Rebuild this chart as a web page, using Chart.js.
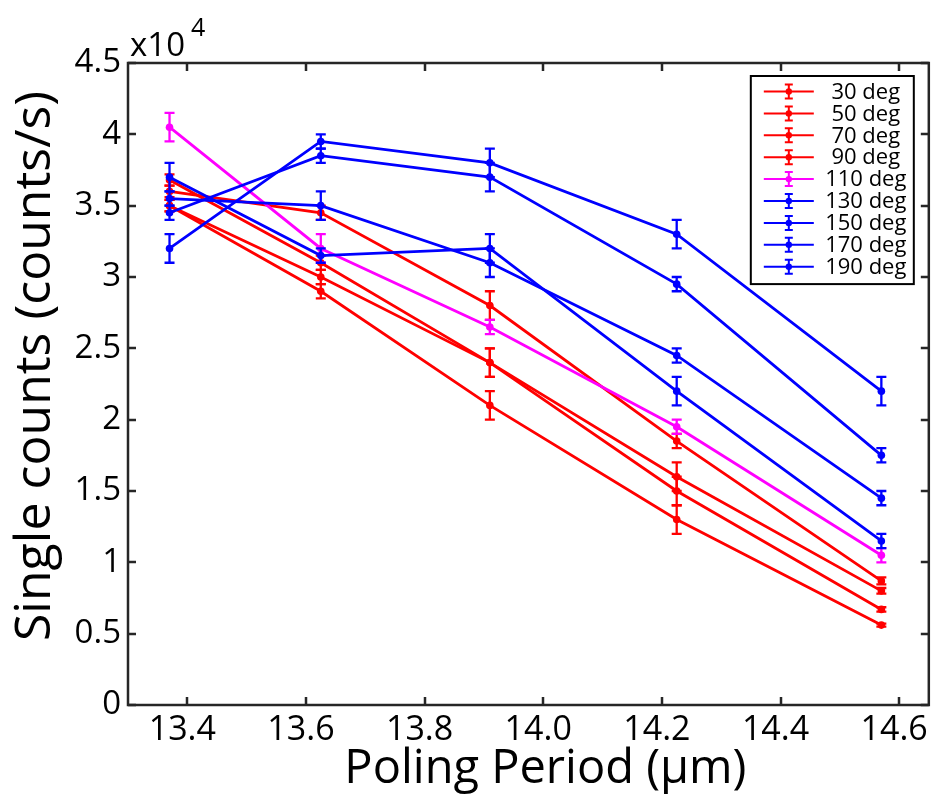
<!DOCTYPE html>
<html>
<head>
<meta charset="utf-8">
<script src="https://cdn.jsdelivr.net/npm/chart.js@4"></script>
<style>
    html, body { margin: 0; padding: 0; background: #fff; }
    #wrap { width: 938px; height: 802px; position: relative; }
</style>
</head>
<body>
<div id="wrap"><canvas id="countsChart"></canvas></div>
<script>
// Poling periods (um) and axis ticks
const periods = [13.37, 13.625, 13.91, 14.225, 14.57];
const xTicks = [13.4, 13.6, 13.8, 14.0, 14.2, 14.4, 14.6];
const yTicks = [0, 5000, 10000, 15000, 20000, 25000, 30000, 35000, 40000, 45000];

// Single counts (counts/s) per pump angle, with error bar half-heights
const deg30 = [35000, 29000, 21000, 13000, 5600];
const err30 = [400, 500, 1000, 1000, 100];
const deg50 = [35000, 30000, 24000, 15000, 6700];
const err50 = [400, 500, 1000, 1000, 150];
const deg70 = [36800, 31000, 24000, 16000, 8000];
const err70 = [400, 500, 1000, 1000, 200];
const deg90 = [36000, 34500, 28000, 18500, 8700];
const err90 = [400, 500, 1000, 500, 250];
const deg110 = [40500, 32000, 26500, 19500, 10500];
const err110 = [1000, 1000, 500, 500, 500];
const deg130 = [37000, 31500, 32000, 22000, 11500];
const err130 = [1000, 500, 1000, 1000, 500];
const deg150 = [35500, 35000, 31000, 24500, 14500];
const err150 = [500, 1000, 1000, 500, 500];
const deg170 = [34500, 38500, 37000, 29500, 17500];
const err170 = [500, 500, 1000, 500, 500];
const deg190 = [32000, 39500, 38000, 33000, 22000];
const err190 = [1000, 500, 1000, 1000, 1000];

const RED = '#ff0000';
const MAGENTA = '#ff00ff';
const BLUE = '#0000ff';
const AXIS = '#262626';
const FONT = '"Open Sans", "Noto Sans", sans-serif';

const series = [
    { label: '30 deg', values: deg30, errors: err30, color: RED },
    { label: '50 deg', values: deg50, errors: err50, color: RED },
    { label: '70 deg', values: deg70, errors: err70, color: RED },
    { label: '90 deg', values: deg90, errors: err90, color: RED },
    { label: '110 deg', values: deg110, errors: err110, color: MAGENTA },
    { label: '130 deg', values: deg130, errors: err130, color: BLUE },
    { label: '150 deg', values: deg150, errors: err150, color: BLUE },
    { label: '170 deg', values: deg170, errors: err170, color: BLUE },
    { label: '190 deg', values: deg190, errors: err190, color: BLUE }
];

// vertical error bars with caps, drawn right after each dataset's line
const errorBarPlugin = {
    id: 'errorBars',
    afterDatasetDraw(chart, args) {
        const ds = chart.data.datasets[args.index];
        if (!ds.errors) return;
        const xs = chart.scales.x, ys = chart.scales.y;
        const ctx = chart.ctx;
        const cap = 5;
        ctx.save();
        ctx.strokeStyle = ds.borderColor;
        ctx.lineWidth = 2.3;
        ds.data.forEach((p, i) => {
            const e = ds.errors[i];
            const px = xs.getPixelForValue(p.x);
            const top = ys.getPixelForValue(p.y + e);
            const bot = ys.getPixelForValue(p.y - e);
            ctx.beginPath();
            ctx.moveTo(px, top); ctx.lineTo(px, bot);
            ctx.moveTo(px - cap, top); ctx.lineTo(px + cap, top);
            ctx.moveTo(px - cap, bot); ctx.lineTo(px + cap, bot);
            ctx.stroke();
        });
        ctx.restore();
    }
};

// boxed axes with inward ticks on all four sides, titles and exponent
const framePlugin = {
    id: 'frame',
    afterDraw(chart) {
        const { ctx, chartArea: a } = chart;
        const xs = chart.scales.x, ys = chart.scales.y;
        const tl = 8;
        ctx.save();
        ctx.strokeStyle = AXIS;
        ctx.lineWidth = 2.5;
        ctx.strokeRect(a.left, a.top, a.right - a.left, a.bottom - a.top);
        ctx.beginPath();
        xTicks.forEach(v => {
            const px = Math.round(xs.getPixelForValue(v));
            ctx.moveTo(px, a.bottom); ctx.lineTo(px, a.bottom - tl);
            ctx.moveTo(px, a.top); ctx.lineTo(px, a.top + tl);
        });
        yTicks.forEach(v => {
            const py = Math.round(ys.getPixelForValue(v));
            ctx.moveTo(a.left, py); ctx.lineTo(a.left + tl, py);
            ctx.moveTo(a.right, py); ctx.lineTo(a.right - tl, py);
        });
        ctx.stroke();

        ctx.fillStyle = '#000';
        // exponent label
        ctx.textAlign = 'left';
        ctx.textBaseline = 'alphabetic';
        ctx.font = '33px ' + FONT;
        ctx.fillText('x10', a.left + 2, a.top - 7);
        ctx.font = '25px ' + FONT;
        ctx.fillText('4', a.left + 63, a.top - 27);

        // axis titles
        ctx.font = '47px ' + FONT;
        ctx.textAlign = 'center';
        ctx.textBaseline = 'middle';
        ctx.fillText('Poling Period (\u00b5m)', (a.left + a.right) / 2 + 17, 770);
        ctx.font = '50px ' + FONT;
        ctx.save();
        ctx.translate(36, (a.top + a.bottom) / 2 - 18);
        ctx.rotate(-Math.PI / 2);
        ctx.fillText('Single counts (counts/s)', 0, 0);
        ctx.restore();
        ctx.restore();
    }
};

// boxed legend: line sample with marker and error bar, then the label
const legendPlugin = {
    id: 'boxLegend',
    afterDraw(chart) {
        const { ctx, chartArea: a } = chart;
        const w = 163, rowH = 21.9;
        const right = a.right - 15, top = a.top + 13;
        const left = right - w;
        const rows = chart.data.datasets.length;
        const h = rowH * rows + 11;
        ctx.save();
        ctx.fillStyle = '#fff';
        ctx.fillRect(left, top, w, h);
        ctx.strokeStyle = '#000';
        ctx.lineWidth = 2;
        ctx.strokeRect(left, top, w, h);
        ctx.font = '22px ' + FONT;
        ctx.textAlign = 'center';
        ctx.textBaseline = 'middle';
        chart.data.datasets.forEach((ds, i) => {
            const cy = top + 15.5 + i * rowH;
            const mx = left + 38;
            ctx.strokeStyle = ds.borderColor;
            ctx.lineWidth = 2;
            ctx.beginPath();
            ctx.moveTo(left + 13, cy); ctx.lineTo(left + 63, cy);
            ctx.moveTo(mx, cy - 7); ctx.lineTo(mx, cy + 7);
            ctx.moveTo(mx - 4, cy - 7); ctx.lineTo(mx + 4, cy - 7);
            ctx.moveTo(mx - 4, cy + 7); ctx.lineTo(mx + 4, cy + 7);
            ctx.stroke();
            ctx.fillStyle = ds.borderColor;
            ctx.beginPath();
            ctx.arc(mx, cy, 3.2, 0, Math.PI * 2);
            ctx.fill();
            ctx.fillStyle = '#000';
            ctx.fillText(ds.label, left + 115, cy + 1);
        });
        ctx.restore();
    }
};

const datasets = series.map((s, i) => ({
    label: s.label,
    data: periods.map((x, j) => ({ x: x, y: s.values[j] })),
    errors: s.errors,
    borderColor: s.color,
    backgroundColor: s.color,
    pointBackgroundColor: s.color,
    pointBorderColor: s.color,
    borderWidth: 2.8,
    pointRadius: 3.8,
    pointBorderWidth: 0,
    tension: 0,
    fill: false,
    order: series.length - i
}));

new Chart(document.getElementById('countsChart'), {
    type: 'line',
    data: { datasets: datasets },
    options: {
        responsive: true,
        maintainAspectRatio: false,
        animation: false,
        layout: { padding: { left: 0, top: 63, right: 6, bottom: 0 } },
        plugins: {
            legend: { display: false },
            tooltip: { enabled: false }
        },
        scales: {
            x: {
                type: 'linear',
                min: 13.3,
                max: 14.65,
                grid: { display: false, drawTicks: false },
                border: { display: false },
                afterFit(scale) { scale.height = 97; },
                afterBuildTicks(scale) { scale.ticks = xTicks.map(v => ({ value: v })); },
                ticks: {
                    color: '#000',
                    font: { family: FONT, size: 34 },
                    padding: 5,
                    labelOffset: -5,
                    maxRotation: 0,
                    callback: v => v.toFixed(1)
                }
            },
            y: {
                type: 'linear',
                min: 0,
                max: 45000,
                grid: { display: false, drawTicks: false },
                border: { display: false },
                afterFit(scale) { scale.width = 128; },
                afterBuildTicks(scale) { scale.ticks = yTicks.map(v => ({ value: v })); },
                ticks: {
                    color: '#000',
                    font: { family: FONT, size: 33 },
                    padding: 7,
                    callback: v => String(v / 10000)
                }
            }
        }
    },
    plugins: [errorBarPlugin, framePlugin, legendPlugin]
});
</script>
</body>
</html>
